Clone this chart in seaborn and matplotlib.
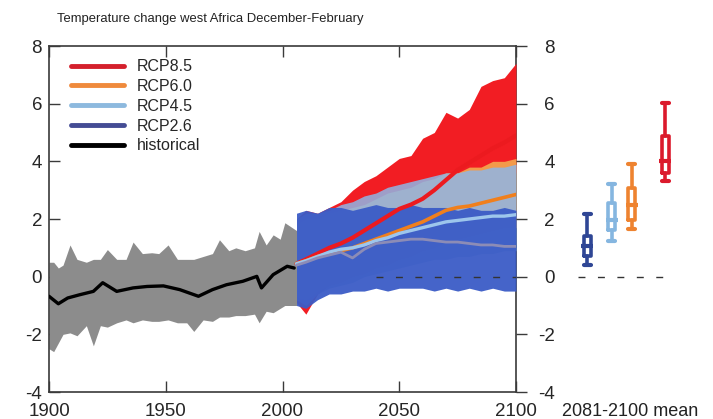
import matplotlib
matplotlib.use("Agg")
import matplotlib.pyplot as plt
import seaborn as sns
import pandas as pd
from matplotlib.lines import Line2D

# ---------------- data ----------------
scenarios = ["RCP8.5", "RCP6.0", "RCP4.5", "RCP2.6"]

# historical multi-model mean (black line)
hist_years = [1900, 1904, 1908, 1913, 1919, 1923, 1929, 1936, 1942, 1949,
              1956, 1964, 1970, 1976, 1983, 1989, 1991, 1996, 2002, 2005]
hist_mean = [-0.68, -0.94, -0.74, -0.63, -0.51, -0.21, -0.51, -0.39, -0.34, -0.32,
             -0.45, -0.68, -0.45, -0.28, -0.16, 0.01, -0.39, 0.07, 0.36, 0.30]

# historical ensemble spread (grey)
grey_years = [1900, 1902, 1904, 1906, 1909, 1912, 1916, 1919, 1922, 1925, 1929,
              1933, 1936, 1940, 1944, 1947, 1951, 1955, 1959, 1962, 1966, 1970,
              1973, 1977, 1980, 1984, 1988, 1990, 1993, 1996, 1999, 2001, 2006]
grey_hi = [0.5, 0.5, 0.3, 0.4, 1.1, 0.6, 0.5, 0.6, 0.6, 0.94, 0.6,
           0.6, 1.2, 0.8, 0.83, 0.8, 1.1, 0.6, 0.6, 0.6, 0.7, 0.8,
           1.28, 0.9, 1.0, 0.9, 1.0, 1.57, 1.1, 1.45, 1.3, 1.87, 1.6]
grey_lo = [-2.5, -2.6, -2.3, -2.0, -1.95, -2.05, -1.7, -2.4, -1.7, -1.75, -1.6,
           -1.5, -1.6, -1.5, -1.55, -1.55, -1.5, -1.6, -1.6, -1.9, -1.5, -1.55,
           -1.4, -1.4, -1.35, -1.35, -1.3, -1.6, -1.2, -1.25, -1.1, -1.0, -1.0]

# projections
proj_years = [2006, 2010, 2015, 2020, 2025, 2030, 2035, 2040, 2045, 2050,
              2055, 2060, 2065, 2070, 2075, 2080, 2085, 2090, 2095, 2100]
rcp85_hi = [2.0, 2.3, 2.2, 2.4, 2.6, 3.0, 3.3, 3.5, 3.8, 4.1, 4.2, 4.8, 5.0, 5.7, 5.5, 5.8, 6.6, 6.8, 6.9, 7.4]
rcp85_lo = [-0.9, -1.3, -0.6, -0.3, 0.0, 0.2, 0.5, 0.7, 1.0, 1.3, 1.6, 1.9, 2.2, 2.5, 2.7, 3.0, 3.2, 3.4, 3.5, 3.6]
rcp60_hi = [1.8, 2.0, 2.0, 2.2, 2.3, 2.4, 2.5, 2.7, 2.9, 3.0, 3.1, 3.3, 3.4, 3.6, 3.6, 3.8, 3.8, 4.0, 4.0, 4.1]
rcp60_lo = [-0.7, -0.8, -0.5, -0.3, -0.2, 0.0, 0.1, 0.3, 0.4, 0.6, 0.7, 0.9, 1.0, 1.2, 1.3, 1.4, 1.5, 1.6, 1.7, 1.7]
rcp45_hi = [2.0, 2.2, 2.2, 2.3, 2.5, 2.6, 2.8, 2.9, 3.1, 3.2, 3.3, 3.4, 3.5, 3.6, 3.6, 3.7, 3.7, 3.8, 3.8, 3.9]
rcp45_lo = [-0.8, -1.0, -0.6, -0.4, -0.3, -0.2, 0.0, 0.1, 0.2, 0.3, 0.4, 0.5, 0.6, 0.6, 0.7, 0.7, 0.8, 0.8, 0.9, 0.9]
rcp26_hi = [2.2, 2.3, 2.2, 2.4, 2.4, 2.3, 2.4, 2.5, 2.4, 2.4, 2.5, 2.4, 2.4, 2.4, 2.3, 2.4, 2.3, 2.3, 2.4, 2.3]
rcp26_lo = [-1.0, -1.1, -0.8, -0.6, -0.6, -0.5, -0.5, -0.4, -0.5, -0.4, -0.4, -0.4, -0.5, -0.4, -0.5, -0.4, -0.5, -0.4, -0.5, -0.5]

rcp85_mean = [0.45, 0.6, 0.8, 1.0, 1.15, 1.35, 1.6, 1.85, 2.1, 2.35, 2.5, 2.7, 3.0, 3.35, 3.7, 3.95, 4.2, 4.45, 4.65, 4.9]
rcp60_mean = [0.45, 0.55, 0.7, 0.8, 0.9, 1.0, 1.15, 1.3, 1.45, 1.6, 1.75, 1.9, 2.1, 2.3, 2.4, 2.45, 2.55, 2.65, 2.75, 2.85]
rcp45_mean = [0.45, 0.55, 0.7, 0.85, 0.95, 1.0, 1.1, 1.25, 1.35, 1.5, 1.6, 1.7, 1.8, 1.9, 1.95, 2.0, 2.05, 2.1, 2.1, 2.15]
rcp26_mean = [0.4, 0.5, 0.65, 0.75, 0.85, 0.65, 0.95, 1.15, 1.2, 1.25, 1.3, 1.3, 1.25, 1.2, 1.2, 1.15, 1.1, 1.1, 1.05, 1.05]

# 2081-2100 mean summary (order RCP2.6, RCP4.5, RCP6.0, RCP8.5)
box_names = ["RCP2.6", "RCP4.5", "RCP6.0", "RCP8.5"]
box_low = [0.42, 1.23, 1.65, 3.31]
box_q1 = [0.71, 1.63, 1.98, 3.60]
box_mean = [1.05, 1.98, 2.50, 4.00]
box_q3 = [1.40, 2.56, 3.08, 4.87]
box_high = [2.19, 3.23, 3.92, 6.03]

x_ticks = [1900, 1950, 2000, 2050, 2100]
y_ticks = [-4, -2, 0, 2, 4, 6, 8]
title = "Temperature change west Africa December-February"
legend_labels = ["RCP8.5", "RCP6.0", "RCP4.5", "RCP2.6", "historical"]

# ---------------- style ----------------
sns.set_style("white")
plt.rcParams["font.family"] = ["Liberation Sans", "DejaVu Sans"]
TICK = 13.5
LEG = 11.5
TITLE = 9.4
SPINE = "#3a3a3a"

ens_col = {"RCP8.5": "#f21d23", "RCP6.0": "#f39a4a", "RCP4.5": "#8fb6e6", "RCP2.6": "#3b5cc6"}
mean_col = {"RCP8.5": "#ec1a1f", "RCP6.0": "#f07f1c", "RCP4.5": "#9dc6ec", "RCP2.6": "#8c8cb6"}
leg_col = ["#d4202c", "#ef8a3c", "#8db9de", "#444c94", "black"]
box_col = ["#2f4695", "#85b6e0", "#ee8330", "#db1a2c"]

W, H = 713, 419
fig = plt.figure(figsize=(W / 100, H / 100), dpi=100)
ax = fig.add_axes([49 / W, 27 / H, 467 / W, 346 / H])
ax.set_xlim(1900, 2100)
ax.set_ylim(-4, 8)

# historical spread
ax.fill_between(grey_years, grey_lo, grey_hi, color="#8c8c8c", lw=0, zorder=2)

# projection spreads
env = {
    "RCP8.5": (rcp85_lo, rcp85_hi),
    "RCP6.0": (rcp60_lo, rcp60_hi),
    "RCP4.5": (rcp45_lo, rcp45_hi),
    "RCP2.6": (rcp26_lo, rcp26_hi),
}
alphas = {"RCP8.5": 1.0, "RCP6.0": 1.0, "RCP4.5": 0.85, "RCP2.6": 0.95}
for i, s in enumerate(scenarios):
    lo, hi = env[s]
    ax.fill_between(proj_years, lo, hi, color=ens_col[s], alpha=alphas[s], lw=0, zorder=3 + i)

# zero reference
ax.plot([2040, 2100], [0, 0], color="#333333", lw=1, dashes=(5, 9), zorder=9)

# scenario means
means = {"RCP8.5": rcp85_mean, "RCP6.0": rcp60_mean, "RCP4.5": rcp45_mean, "RCP2.6": rcp26_mean}
lws = {"RCP8.5": 3.0, "RCP6.0": 2.6, "RCP4.5": 2.4, "RCP2.6": 2.0}
for i, s in enumerate(scenarios):
    df = pd.DataFrame({"year": proj_years, "value": means[s]})
    sns.lineplot(data=df, x="year", y="value", color=mean_col[s], lw=lws[s],
                 ax=ax, legend=False, zorder=10 + i)

dfh = pd.DataFrame({"year": hist_years, "value": hist_mean})
sns.lineplot(data=dfh, x="year", y="value", color="black", lw=2.4, ax=ax, legend=False, zorder=20)

ax.set_xlabel("")
ax.set_ylabel("")
ax.set_xticks(x_ticks)
ax.set_yticks(y_ticks)
ax.set_yticklabels([str(v) for v in y_ticks])
ax.tick_params(axis="both", direction="in", length=8, width=1, color=SPINE,
               labelsize=TICK, top=True, bottom=True, left=True, right=False, pad=5)
ax.tick_params(axis="x", pad=8)
for sp in ax.spines.values():
    sp.set_visible(True)
    sp.set_color(SPINE)
    sp.set_linewidth(1.2)

# right-hand axis
ax2 = ax.twinx()
ax2.set_ylim(-4, 8)
ax2.set_yticks(y_ticks)
ax2.set_yticklabels([str(v) for v in y_ticks], ha="right")
ax2.tick_params(axis="y", direction="out", length=8, width=1, color=SPINE,
                labelsize=TICK, pad=20)
for sp in ax2.spines.values():
    sp.set_visible(False)

# legend
handles = [Line2D([0], [0], color=c, lw=3.5) for c in leg_col]
ax.legend(handles, legend_labels, loc="upper left", bbox_to_anchor=(0.047, 0.962),
          frameon=False, fontsize=LEG, handlelength=3.3, handletextpad=0.85,
          labelspacing=0.3, borderpad=0, borderaxespad=0)

# title
fig.text(57 / W, 1 - 19 / H, title, ha="left", va="center", fontsize=TITLE, color="#222222")

# 2081-2100 mean panel
axb = fig.add_axes([560 / W, 27 / H, 140 / W, 346 / H])
axb.set_xlim(0, 140)
axb.set_ylim(-4, 8)
axb.axis("off")
positions = [27, 51.7, 71.7, 105]
for i in range(4):
    stats = [dict(med=box_mean[i], q1=box_q1[i], q3=box_q3[i],
                  whislo=box_low[i], whishi=box_high[i], fliers=[])]
    c = box_col[i]
    axb.bxp(stats, positions=[positions[i]], widths=7, showfliers=False,
            boxprops=dict(color=c, lw=2.6),
            whiskerprops=dict(color=c, lw=2.6),
            capprops=dict(color=c, lw=3.0),
            medianprops=dict(color=c, lw=0),
            capwidths=7, manage_ticks=False)
    axb.hlines(box_mean[i], positions[i] - 6, positions[i] + 6, color=c, lw=3.0)
axb.plot([18, 112], [0, 0], color="#333333", lw=1, dashes=(5, 9))

fig.text(630 / W, 1 - 411 / H, "2081-2100 mean", ha="center", va="center",
         fontsize=13, color="#222222")

fig.savefig("out.png", dpi=100)
